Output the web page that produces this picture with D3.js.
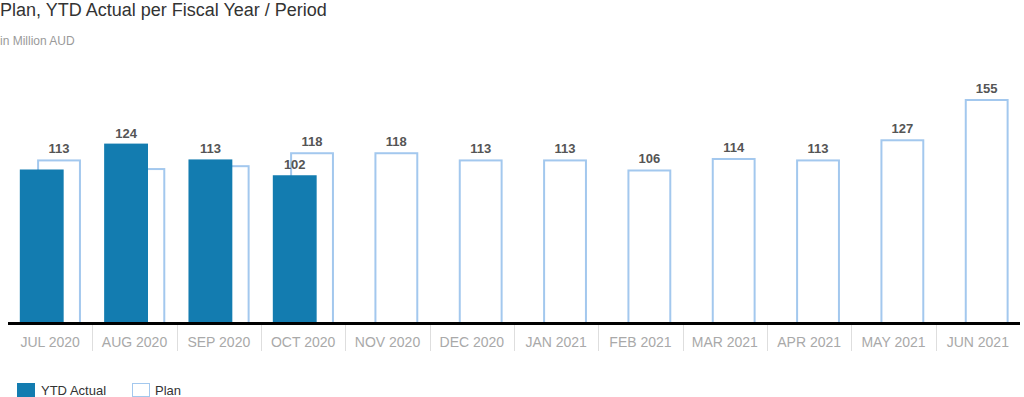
<!DOCTYPE html>
<html>
<head>
<meta charset="utf-8">
<script src="https://cdn.jsdelivr.net/npm/d3@7"></script>
<style>
  body { margin: 0; background: #fff; }
  svg { display: block; font-family: "Liberation Sans", Arial, sans-serif; }
</style>
</head>
<body>
<div id="chart"></div>
<script>
// Plan vs YTD Actual per period (Million AUD)
const width = 1024, height = 397;

const periods = ["JUL 2020", "AUG 2020", "SEP 2020", "OCT 2020", "NOV 2020", "DEC 2020",
                 "JAN 2021", "FEB 2021", "MAR 2021", "APR 2021", "MAY 2021", "JUN 2021"];
const actualValues = [106, 124, 113, 102];
const planValues = [113, 107, 109, 118, 118, 113, 113, 106, 114, 113, 127, 155];

const svg = d3.select("#chart")
    .append("svg")
    .attr("width", width)
    .attr("height", height);

// Title + subtitle
svg.append("text")
    .attr("x", 0)
    .attr("y", 16)
    .style("font-size", "18px")
    .attr("fill", "#333")
    .text("Plan, YTD Actual per Fiscal Year / Period");

svg.append("text")
    .attr("x", 0)
    .attr("y", 45)
    .style("font-size", "12px")
    .attr("fill", "#9a9a9a")
    .text("in Million AUD");

// Scales
const x = d3.scaleBand()
    .domain(periods)
    .range([8, 1020])
    .padding(0);

const y = d3.scaleLinear()
    .domain([0, 155])
    .range([322, 99]);

const bw = x.bandwidth();
const barW = bw * 0.52;
const actualX = p => x(p) + bw * 0.14;
const planX = p => x(p) + bw * 0.345;

const actualColor = "#137cb0";
const planColor = "#a3c8ee";

// Plan bars (outline, behind)
svg.append("g")
    .selectAll("rect")
    .data(planValues)
    .enter().append("rect")
    .attr("x", (d, i) => planX(periods[i]) + 1)
    .attr("y", d => y(d) + 1)
    .attr("width", barW - 2)
    .attr("height", d => y(0) - y(d))
    .attr("fill", "#fff")
    .attr("stroke", planColor)
    .attr("stroke-width", 2);

// Actual bars (filled, front)
svg.append("g")
    .selectAll("rect")
    .data(actualValues)
    .enter().append("rect")
    .attr("x", (d, i) => actualX(periods[i]))
    .attr("y", d => y(d))
    .attr("width", barW)
    .attr("height", d => y(0) - y(d))
    .attr("fill", actualColor);

// Data labels: plan labels hidden under actual bars, actual labels hidden if they hit a plan label
const labelW = 24, labelH = 12, labelGap = 6, pad = 2;
const boxOf = (cx, v) => ({ x0: cx - labelW / 2 - pad, x1: cx + labelW / 2 + pad,
                            y0: y(v) - labelGap - labelH - pad, y1: y(v) - labelGap + pad });
const hits = (a, b) => a.x0 < b.x1 && a.x1 > b.x0 && a.y0 < b.y1 && a.y1 > b.y0;

const labels = [];
planValues.forEach((v, i) => {
    const cx = planX(periods[i]) + barW / 2;
    const box = boxOf(cx, v);
    const a = actualValues[i];
    if (a !== undefined) {
        const bar = { x0: actualX(periods[i]), x1: actualX(periods[i]) + barW, y0: y(a), y1: y(0) };
        if (hits(box, bar)) return;
    }
    labels.push({ cx, v, box });
});
const planLabels = labels.slice();
actualValues.forEach((v, i) => {
    const cx = actualX(periods[i]) + barW / 2;
    const box = boxOf(cx, v);
    if (planLabels.some(l => hits(box, l.box))) return;
    labels.push({ cx, v, box });
});

svg.append("g")
    .selectAll("text")
    .data(labels)
    .enter().append("text")
    .attr("x", d => d.cx)
    .attr("y", d => y(d.v) - labelGap)
    .attr("text-anchor", "middle")
    .style("font-size", "13px")
    .style("font-weight", "bold")
    .attr("fill", "#555")
    .text(d => d.v);

// Baseline
svg.append("line")
    .attr("x1", 8)
    .attr("x2", 1020)
    .attr("y1", 323.5)
    .attr("y2", 323.5)
    .attr("stroke", "#000")
    .attr("stroke-width", 3);

// Category dividers + labels
svg.append("g")
    .selectAll("line")
    .data(periods.slice(1))
    .enter().append("line")
    .attr("x1", d => Math.round(x(d)) + 0.5)
    .attr("x2", d => Math.round(x(d)) + 0.5)
    .attr("y1", 325)
    .attr("y2", 351)
    .attr("stroke", "#dedede");

svg.append("g")
    .selectAll("text")
    .data(periods)
    .enter().append("text")
    .attr("x", d => x(d) + bw / 2)
    .attr("y", 347)
    .attr("text-anchor", "middle")
    .style("font-size", "14px")
    .attr("fill", "#a9a9a9")
    .text(d => d);

// Legend
const legend = svg.append("g");
legend.append("rect")
    .attr("x", 17).attr("y", 383)
    .attr("width", 18).attr("height", 14)
    .attr("fill", actualColor);
legend.append("text")
    .attr("x", 41).attr("y", 395)
    .style("font-size", "13px")
    .attr("fill", "#333")
    .text("YTD Actual");
legend.append("rect")
    .attr("x", 132.5).attr("y", 383.5)
    .attr("width", 17).attr("height", 13)
    .attr("fill", "#fff")
    .attr("stroke", planColor);
legend.append("text")
    .attr("x", 155).attr("y", 395)
    .style("font-size", "13px")
    .attr("fill", "#333")
    .text("Plan");
</script>
</body>
</html>
